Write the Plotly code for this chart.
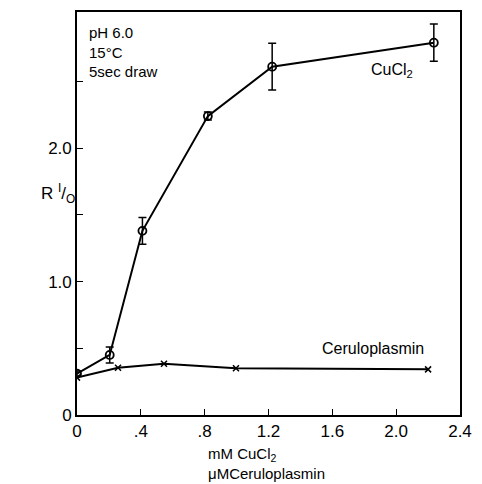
import plotly.graph_objects as go

cucl2_x = [0.0, 0.205, 0.41, 0.82, 1.223, 2.236]
cucl2_y = [0.31, 0.45, 1.38, 2.24, 2.61, 2.79]
cucl2_err = [0.02, 0.06, 0.10, 0.03, 0.175, 0.14]

cer_x = [0.0, 0.257, 0.545, 0.996, 2.20]
cer_y = [0.28, 0.354, 0.384, 0.35, 0.342]

x_ticks = [0, 0.4, 0.8, 1.2, 1.6, 2.0, 2.4]
x_labels = ["0", ".4", ".8", "1.2", "1.6", "2.0", "2.4"]
y_ticks = [0, 0.5, 1.0, 1.5, 2.0, 2.5]
y_labels = ["0", "", "1.0", "", "2.0", ""]

font = "Liberation Sans, Arial, sans-serif"

fig = go.Figure()
fig.add_trace(go.Scatter(
    x=cucl2_x, y=cucl2_y, mode="lines+markers",
    line=dict(color="black", width=2),
    marker=dict(symbol="circle-open", size=8, color="black", line=dict(width=1.8)),
    error_y=dict(type="data", array=cucl2_err, color="black", thickness=1.5, width=4),
    showlegend=False))
fig.add_trace(go.Scatter(
    x=cer_x, y=cer_y, mode="lines+markers",
    line=dict(color="black", width=2),
    marker=dict(symbol="x-thin", size=6, color="black", line=dict(width=1.5, color="black")),
    showlegend=False))

fig.update_layout(
    width=482, height=484,
    margin=dict(l=77, r=10, t=11, b=69),
    paper_bgcolor="white", plot_bgcolor="white",
    font=dict(family=font, color="black", size=16),
    xaxis=dict(range=[0, 2.4], tickvals=x_ticks, ticktext=x_labels,
               ticks="inside", ticklen=6, tickwidth=1.2, tickcolor="black",
               showline=True, linecolor="black", linewidth=1.6, mirror=True,
               showgrid=False, zeroline=False, tickfont=dict(size=17)),
    yaxis=dict(range=[0, 3.02], tickvals=y_ticks, ticktext=y_labels,
               ticks="inside", ticklen=6, tickwidth=1.2, tickcolor="black",
               showline=True, linecolor="black", linewidth=1.6, mirror=True,
               showgrid=False, zeroline=False, tickfont=dict(size=17)),
)

fig.add_annotation(x=0.025, y=0.975, xref="paper", yref="paper", showarrow=False,
                   xanchor="left", yanchor="top", align="left",
                   text="pH 6.0<br>15°C<br>5sec draw", font=dict(size=15))
fig.add_annotation(x=0.762, y=0.854, xref="paper", yref="paper", showarrow=False,
                   xanchor="left", yanchor="middle", text="CuCl<sub>2</sub>",
                   font=dict(size=16))
fig.add_annotation(x=0.635, y=0.166, xref="paper", yref="paper", showarrow=False,
                   xanchor="left", yanchor="middle", text="Ceruloplasmin",
                   font=dict(size=16))
fig.add_annotation(x=-0.05, y=0.55, xref="paper", yref="paper", showarrow=False,
                   xanchor="center", yanchor="middle",
                   text="R <sup>I</sup>/<sub>O</sub>", font=dict(size=17))
fig.add_annotation(x=0.337, y=-0.07, xref="paper", yref="paper", showarrow=False,
                   xanchor="left", yanchor="top", align="left",
                   text="mM CuCl<sub>2</sub><br>μMCeruloplasmin", font=dict(size=15))

fig.write_html("out.html")
